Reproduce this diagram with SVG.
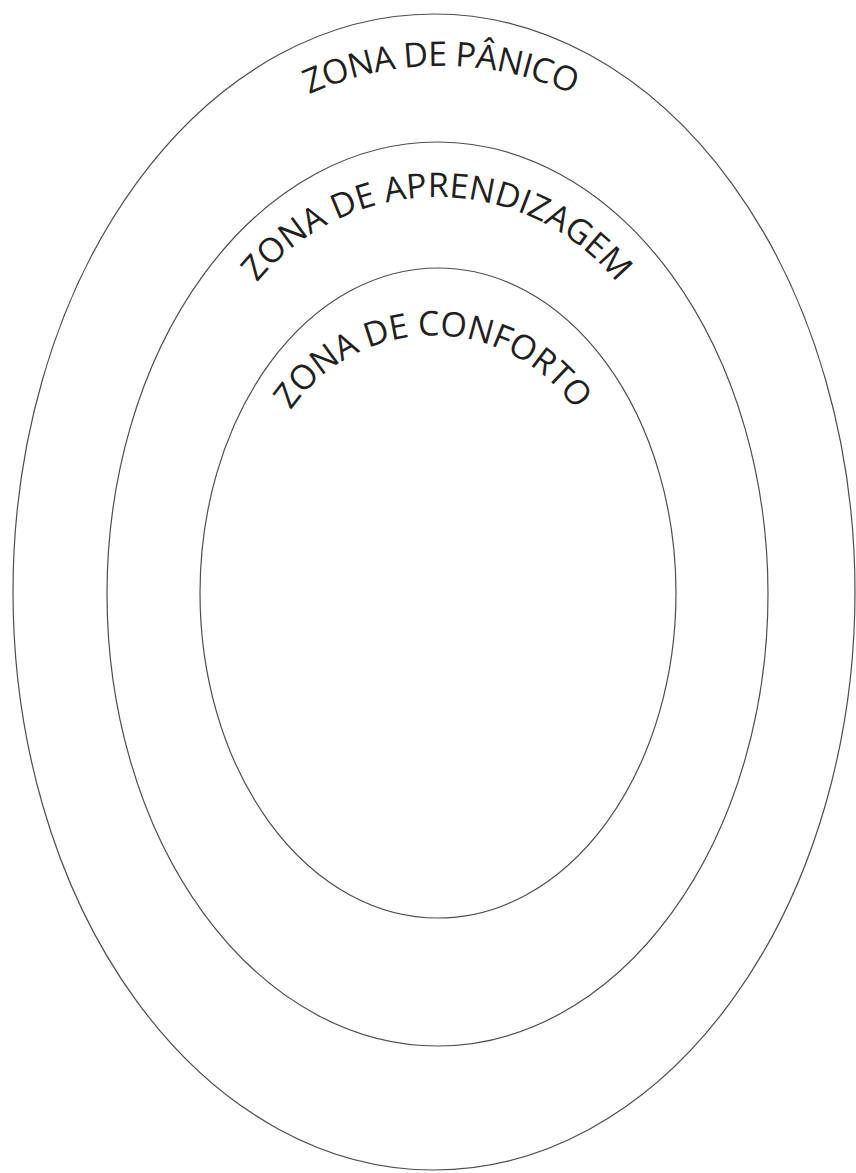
<svg xmlns="http://www.w3.org/2000/svg" xmlns:xlink="http://www.w3.org/1999/xlink" width="856" height="1173" viewBox="0 0 856 1173">
<style>
.ring{fill:none;stroke:#4d4d4d;stroke-width:1.2}
.lbl{font-family:"Open Sans","Liberation Sans",sans-serif;font-size:34px;font-weight:500;fill:#231f20}
</style>
<defs>
<path id="p-outer" d="M141.2,275.9 A319,319 0 0 1 740.8,275.9"/>
<path id="p-mid" d="M219,349.7 A232,232 0 0 1 655,349.7"/>
<path id="p-inner" d="M270.9,449 A172.5,172.5 0 0 1 595.1,449"/>
</defs>
<rect width="856" height="1173" fill="#ffffff"/>
<g id="zona-panico">
<ellipse class="ring" cx="434" cy="592" rx="421" ry="578"/>
<text class="lbl"><textPath xlink:href="#p-outer" href="#p-outer" startOffset="50%" text-anchor="middle" textLength="272" lengthAdjust="spacing">ZONA DE PÂNICO</textPath></text>
</g>
<g id="zona-aprendizagem">
<ellipse class="ring" cx="437.5" cy="594" rx="330.5" ry="452"/>
<text class="lbl"><textPath xlink:href="#p-mid" href="#p-mid" startOffset="50%" text-anchor="middle" textLength="412" lengthAdjust="spacing">ZONA DE APRENDIZAGEM</textPath></text>
</g>
<g id="zona-conforto">
<ellipse class="ring" cx="438" cy="593" rx="238" ry="325"/>
<text class="lbl"><textPath xlink:href="#p-inner" href="#p-inner" startOffset="50%" text-anchor="middle" textLength="334" lengthAdjust="spacing">ZONA DE CONFORTO</textPath></text>
</g>
<g id="connectors"/>
</svg>
